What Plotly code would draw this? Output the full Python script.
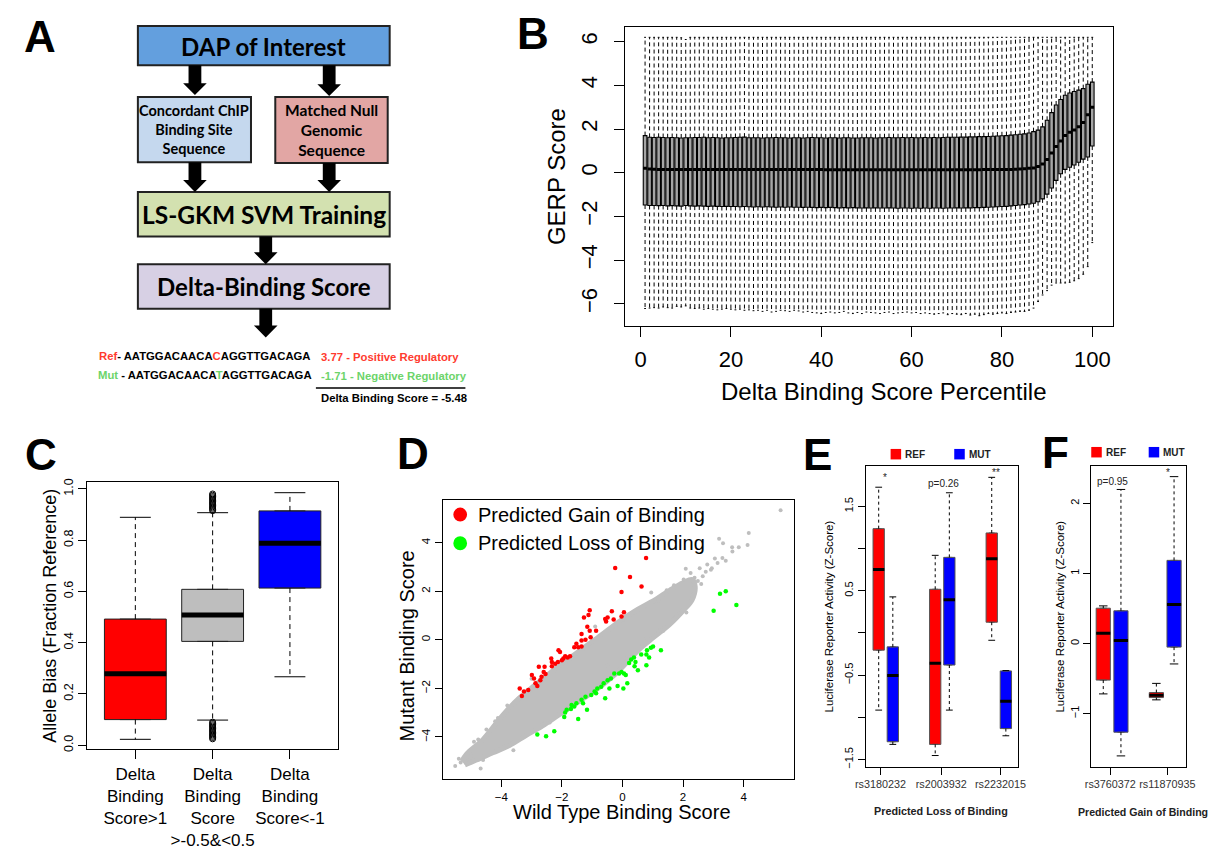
import plotly.graph_objects as go

W, H = 1217, 850
def fx(x): return x / W
def fy(y): return 1 - y / H

FONT = "Liberation Sans, Arial, Helvetica, sans-serif"
FLOW = "Lato, Open Sans, sans-serif"

# ---------------- Panel B data (GERP score boxes per percentile) ----------------
b_pct = list(range(1, 101))
b_median = [0.20, 0.17, 0.16, 0.15, 0.15, 0.15, 0.15, 0.15, 0.15, 0.15,
            0.15, 0.15, 0.15, 0.15, 0.15, 0.15, 0.15, 0.15, 0.15, 0.15,
            0.15, 0.15, 0.15, 0.15, 0.15, 0.15, 0.15, 0.15, 0.15, 0.15,
            0.15, 0.15, 0.15, 0.15, 0.15, 0.15, 0.15, 0.15, 0.15, 0.15,
            0.14, 0.14, 0.14, 0.14, 0.14, 0.14, 0.14, 0.14, 0.14, 0.14,
            0.14, 0.14, 0.14, 0.14, 0.14, 0.14, 0.14, 0.14, 0.14, 0.14,
            0.14, 0.14, 0.14, 0.14, 0.14, 0.14, 0.14, 0.14, 0.14, 0.14,
            0.14, 0.14, 0.14, 0.14, 0.14, 0.15, 0.15, 0.15, 0.15, 0.15,
            0.15, 0.15, 0.16, 0.17, 0.18, 0.20, 0.22, 0.28, 0.40, 0.60,
            0.90, 1.20, 1.45, 1.70, 1.85, 1.95, 2.10, 2.30, 2.65, 3.00]
b_q3 = [1.70, 1.62, 1.61, 1.62, 1.61, 1.60, 1.61, 1.60, 1.59, 1.60,
        1.60, 1.61, 1.61, 1.62, 1.60, 1.61, 1.60, 1.59, 1.60, 1.60,
        1.61, 1.62, 1.63, 1.60, 1.60, 1.60, 1.59, 1.60, 1.60, 1.61,
        1.60, 1.60, 1.59, 1.60, 1.60, 1.59, 1.60, 1.61, 1.60, 1.60,
        1.59, 1.60, 1.60, 1.59, 1.60, 1.60, 1.59, 1.59, 1.60, 1.60,
        1.60, 1.59, 1.60, 1.60, 1.61, 1.60, 1.60, 1.61, 1.60, 1.61,
        1.60, 1.60, 1.61, 1.60, 1.61, 1.60, 1.61, 1.62, 1.62, 1.62,
        1.63, 1.63, 1.64, 1.64, 1.65, 1.65, 1.66, 1.67, 1.68, 1.69,
        1.70, 1.72, 1.74, 1.76, 1.78, 1.82, 1.88, 1.95, 2.10, 2.40,
        2.75, 3.10, 3.35, 3.55, 3.65, 3.72, 3.78, 3.85, 4.05, 4.15]
b_q1 = [-1.48, -1.50, -1.50, -1.51, -1.50, -1.52, -1.51, -1.52, -1.53, -1.50,
        -1.52, -1.53, -1.52, -1.53, -1.54, -1.53, -1.54, -1.55, -1.54, -1.55,
        -1.55, -1.56, -1.55, -1.56, -1.57, -1.56, -1.57, -1.56, -1.57, -1.58,
        -1.57, -1.58, -1.57, -1.58, -1.58, -1.59, -1.58, -1.59, -1.60, -1.59,
        -1.60, -1.59, -1.60, -1.61, -1.60, -1.61, -1.60, -1.61, -1.62, -1.61,
        -1.62, -1.61, -1.62, -1.62, -1.61, -1.62, -1.63, -1.62, -1.62, -1.63,
        -1.62, -1.63, -1.62, -1.63, -1.62, -1.62, -1.63, -1.62, -1.62, -1.61,
        -1.62, -1.61, -1.61, -1.60, -1.60, -1.59, -1.58, -1.57, -1.56, -1.55,
        -1.54, -1.52, -1.50, -1.48, -1.46, -1.43, -1.40, -1.33, -1.20, -0.98,
        -0.70, -0.35, -0.05, 0.15, 0.25, 0.35, 0.48, 0.62, 0.72, 1.22]
b_upper = [6.20, 6.20, 6.20, 6.20, 6.20, 6.20, 6.20, 6.20, 6.18, 6.10,
           6.20, 6.20, 6.20, 6.20, 6.20, 6.20, 6.20, 6.20, 6.20, 6.20,
           6.20, 6.20, 6.20, 6.20, 6.20, 6.20, 6.20, 6.20, 6.20, 6.20,
           6.20, 6.20, 6.20, 6.20, 6.20, 6.20, 6.20, 6.20, 6.20, 6.20,
           6.20, 6.20, 6.20, 6.20, 6.20, 6.20, 6.20, 6.20, 6.20, 6.20,
           6.20, 6.20, 6.20, 6.20, 6.20, 6.20, 6.20, 6.20, 6.20, 6.20,
           6.20, 6.20, 6.20, 6.20, 6.20, 6.20, 6.20, 6.20, 6.20, 6.20,
           6.20, 6.20, 6.20, 6.20, 6.20, 6.20, 6.20, 6.20, 6.20, 6.20,
           6.20, 6.20, 6.20, 6.20, 6.20, 6.20, 6.20, 6.20, 6.20, 6.20,
           6.20, 6.20, 6.20, 6.20, 6.20, 6.20, 6.20, 6.20, 6.20, 6.20]
b_lower = [-6.22, -6.20, -6.18, -6.20, -6.15, -6.18, -6.20, -6.12, -6.15, -6.10,
           -6.20, -6.22, -6.20, -6.25, -6.22, -6.25, -6.28, -6.25, -6.22, -6.25,
           -6.28, -6.25, -6.30, -6.28, -6.32, -6.30, -6.35, -6.30, -6.38, -6.35,
           -6.30, -6.32, -6.35, -6.30, -6.33, -6.38, -6.35, -6.40, -6.42, -6.45,
           -6.40, -6.38, -6.42, -6.40, -6.35, -6.42, -6.45, -6.40, -6.45, -6.38,
           -6.40, -6.42, -6.45, -6.40, -6.38, -6.45, -6.42, -6.40, -6.38, -6.42,
           -6.40, -6.45, -6.42, -6.45, -6.48, -6.45, -6.42, -6.50, -6.45, -6.48,
           -6.50, -6.45, -6.52, -6.48, -6.55, -6.50, -6.45, -6.48, -6.45, -6.42,
           -6.45, -6.40, -6.38, -6.35, -6.35, -6.30, -6.20, -5.90, -5.60, -5.40,
           -5.15, -5.05, -5.05, -5.05, -5.02, -4.95, -4.85, -4.65, -4.30, -3.20]
b_xticks = [0, 20, 40, 60, 80, 100]
b_yticks = [-6, -4, -2, 0, 2, 4, 6]

# ---------------- Panel C data ----------------
c_labels = ["Delta<br>Binding<br>Score&gt;1",
            "Delta<br>Binding<br>Score<br>&gt;-0.5&amp;&lt;0.5",
            "Delta<br>Binding<br>Score&lt;-1"]
c_pos = [1, 2, 3]
c_q1 = [0.100, 0.405, 0.613]
c_median = [0.279, 0.508, 0.788]
c_q3 = [0.492, 0.608, 0.914]
c_lower = [0.023, 0.098, 0.267]
c_upper = [0.889, 0.907, 0.985]
c_colors = ["#ff0000", "#bebebe", "#0000ff"]
c_out_hi = [0.915, 0.92, 0.925, 0.93, 0.935, 0.94, 0.945, 0.95, 0.955, 0.96, 0.965, 0.97, 0.975, 0.98]
c_out_lo = [0.025, 0.03, 0.035, 0.04, 0.045, 0.05, 0.055, 0.06, 0.065, 0.07, 0.075, 0.08, 0.085, 0.09]
c_yticks = [0.0, 0.2, 0.4, 0.6, 0.8, 1.0]

# ---------------- Panel D data ----------------
d_cloud_x = [-5.30, -5.14, -4.60, -3.95, -3.41, -2.87, -2.33, -1.79, -1.25, -0.70, -0.06, 0.50, 1.14, 1.57, 2.00, 2.30,
             2.40, 2.30, 2.00, 1.57, 1.03, 0.59, -0.27, -1.03, -1.57, -2.11, -2.65, -3.20, -3.73, -4.28, -4.82, -5.20]
d_cloud_y = [-5.00, -4.70, -4.10, -3.10, -2.40, -1.85, -1.30, -0.80, -0.30, 0.20, 0.80, 1.25, 1.70, 2.05, 2.35, 2.48,
             2.20, 1.65, 1.20, 0.65, 0.10, -0.35, -1.45, -2.20, -2.65, -3.10, -3.55, -3.95, -4.35, -4.65, -4.95, -5.15]
d_gray_x = [5.22, 4.17, 4.13, 3.19, 3.32, 3.62, 3.63, 3.84, 3.30, 3.41, 3.14, 2.92, 2.65, 2.38, 2.49, 2.09, 2.02,
            2.11, 1.79, 1.35, 1.46, 1.19, -5.52, -4.68, -5.14, -4.95, -5.34, -4.49, -4.76, -4.11, 2.75, 2.25,
            2.55, 2.80, 2.60, 1.70, 1.90, 0.95, 0.70, 0.30, -0.50, -1.40, -2.40, -3.00, -3.60, -4.20, -4.60,
            -5.40, -4.90, -3.80, -0.90, 0.10, 1.25, 2.95, 3.05]
d_gray_y = [5.34, 4.40, 3.91, 4.16, 3.98, 3.81, 3.64, 3.81, 3.37, 3.26, 3.17, 2.89, 2.62, 2.56, 2.42, 2.93, 2.49,
            1.13, 0.92, 0.38, 2.04, 1.61, -5.19, -5.30, -4.85, -4.78, -5.05, -3.69, -4.10, -3.22, 2.80, 2.75,
            2.95, 3.10, 2.30, 2.25, 1.05, 1.95, 0.05, 1.10, -1.05, -2.45, -3.40, -1.60, -4.55, -3.35, -4.95,
            -4.90, -4.20, -2.70, 0.55, -0.75, 0.40, 2.95, 3.35]
d_gain_x = [0.78, -0.24, 0.25, 0.63, -0.03, -1.08, -0.35, 0.05, -0.03, -1.27, -1.12, -0.57, -0.49, -0.29, -0.54,
            -1.16, -1.08, -0.87, -1.35, -1.22, -1.05, -1.35, -1.59, -1.46, -1.35, -1.52, -2.11, -2.06, -1.89, -1.81,
            -1.95, -1.73, -2.35, -2.33, -2.22, -2.13, -2.00, -2.76, -2.57, -2.33, -2.60, -2.67, -2.99, -2.92, -2.87,
            -2.71, -2.54, -3.39, -3.25, -3.11, -3.32, -2.81]
d_gain_y = [3.37, 2.96, 2.59, 2.20, 1.97, 1.22, 1.18, 1.14, 0.96, 0.92, 1.02, 0.86, 0.92, 0.84, 0.76,
            0.54, 0.38, 0.38, 0.24, 0.00, 0.11, -0.03, -0.30, -0.30, -0.27, -0.16, -0.43, -0.50, -0.68, -0.73,
            -0.77, -0.68, -0.77, -0.91, -0.98, -0.91, -0.84, -1.11, -1.11, -1.09, -1.32, -1.52, -1.45, -1.59, -1.79,
            -1.66, -1.41, -2.00, -2.13, -2.06, -2.31, -1.90]
d_loss_x = [3.41, 3.22, 3.76, 3.01, 1.27, 1.01, 0.94, 0.81, 0.79, 0.88, 0.62, 0.38, 0.29, 0.43, 0.22, 0.40, 0.79,
            0.51, -0.03, 0.05, -0.11, -0.27, 0.11, -0.38, -0.49, -0.62, -0.16, 0.16, 0.03, -0.43, -0.83, -0.92,
            -1.03, -0.87, -1.22, -1.35, -1.52, -1.68, -1.59, -1.84, -1.89, -1.92, -1.70, -1.17, -1.46, -0.57, -2.25,
            -2.52, -2.81, -1.30, -0.70]
d_loss_y = [2.00, 1.90, 1.44, 1.20, -0.43, -0.27, -0.33, -0.43, -0.60, -0.73, -0.60, -0.73, -0.81, -0.91, -0.95,
            -1.09, -1.05, -1.25, -1.32, -1.39, -1.39, -1.39, -1.45, -1.59, -1.66, -1.79, -1.90, -1.79, -2.00, -2.00,
            -2.00, -2.13, -2.27, -2.20, -2.34, -2.47, -2.61, -2.68, -2.74, -2.88, -2.99, -3.18, -2.85, -2.88, -3.26,
            -2.40, -3.76, -3.97, -3.90, -2.61, -1.93]
d_ticks = [-4, -2, 0, 2, 4]

# ---------------- Panel E data (Predicted Loss of Binding) ----------------
e_snps = ["rs3180232", "rs2003932", "rs2232015"]
e_ref_q1 = [-0.204, -1.320, 0.127]
e_ref_med = [0.751, -0.360, 0.880]
e_ref_q3 = [1.235, 0.517, 1.184]
e_ref_lo = [-0.914, -1.452, -0.087]
e_ref_hi = [1.726, 0.919, 1.843]
e_mut_q1 = [-1.289, -0.380, -1.133]
e_mut_med = [-0.504, 0.392, -0.809]
e_mut_q3 = [-0.165, 0.895, -0.450]
e_mut_lo = [-1.320, -0.914, -1.218]
e_mut_hi = [0.427, 1.660, -0.446]
e_sig = ["*", "p=0.26", "**"]
e_yticks = [-1.5, -1.0, -0.5, 0.0, 0.5, 1.0, 1.5]
e_yticktext = ["\u22121.5", "", "\u22120.5", "", "0.5", "", "1.5"]

# ---------------- Panel F data (Predicted Gain of Binding) ----------------
f_snps = ["rs3760372", "rs11870935"]
f_ref_q1 = [-0.522, -0.771]
f_ref_med = [0.146, -0.738]
f_ref_q3 = [0.503, -0.700]
f_ref_lo = [-0.719, -0.804]
f_ref_hi = [0.536, -0.569]
f_mut_q1 = [-1.265, -0.052]
f_mut_med = [0.042, 0.555]
f_mut_q3 = [0.466, 1.185]
f_mut_lo = [-1.603, -0.292]
f_mut_hi = [2.196, 2.379]
f_sig = ["p=0.95", "*"]
f_yticks = [-1, 0, 1, 2]

# ---------------- layout positions (not data) ----------------
e_ref_pos = [1, 3, 5]
e_mut_pos = [1.5, 3.5, 5.5]
e_tickpos = [1.063, 3.21, 5.31]
f_ref_pos = [1, 2.5]
f_mut_pos = [1.5, 3.0]
f_tickpos = [1.2, 2.81]

fig = go.Figure()


def add_boxes(xs, q1, med, q3, lo, hi, width, fill, xa, ya, cap_half, med_w,
              edge="black", dash="3px,3px", lw=1):
    wx, wy, cx, cy, mx, my = [], [], [], [], [], []
    for x, a, m, b, l, h in zip(xs, q1, med, q3, lo, hi):
        wx += [x, x, None, x, x, None]
        wy += [b, h, None, a, l, None]
        cx += [x - cap_half, x + cap_half, None, x - cap_half, x + cap_half, None]
        cy += [h, h, None, l, l, None]
        mx += [x - width / 2, x + width / 2, None]
        my += [m, m, None]
    fig.add_trace(go.Scatter(x=wx, y=wy, mode="lines", xaxis=xa, yaxis=ya,
                             line=dict(color="black", width=1, dash=dash),
                             hoverinfo="skip", showlegend=False))
    fig.add_trace(go.Scatter(x=cx, y=cy, mode="lines", xaxis=xa, yaxis=ya,
                             line=dict(color="black", width=1),
                             hoverinfo="skip", showlegend=False))
    fig.add_trace(go.Box(x=xs, q1=q1, median=med, q3=q3, lowerfence=q1, upperfence=q3,
                         width=width, fillcolor=fill, line=dict(color=edge, width=lw),
                         boxpoints=False, xaxis=xa, yaxis=ya, hoverinfo="skip",
                         showlegend=False))
    fig.add_trace(go.Scatter(x=mx, y=my, mode="lines", xaxis=xa, yaxis=ya,
                             line=dict(color="black", width=med_w),
                             hoverinfo="skip", showlegend=False))


# Panel B
add_boxes(b_pct, b_q1, b_median, b_q3, b_lower, b_upper, 0.8, "#a6a6a6", "x", "y",
          0.2, 3, edge="black", dash="4px,3px", lw=1.1)

# Panel C
for i in range(3):
    add_boxes([c_pos[i]], [c_q1[i]], [c_median[i]], [c_q3[i]], [c_lower[i]], [c_upper[i]],
              0.8, c_colors[i], "x2", "y2", 0.2, 5, edge="#222222", dash="5px,4px")
fig.add_trace(go.Scatter(x=[c_pos[1]] * (len(c_out_hi) + len(c_out_lo)), y=c_out_hi + c_out_lo,
                         mode="markers", xaxis="x2", yaxis="y2",
                         marker=dict(symbol="circle-open", size=6, color="black", line=dict(width=1)),
                         hoverinfo="skip", showlegend=False))

# Panel D
fig.add_trace(go.Scatter(x=d_cloud_x, y=d_cloud_y, mode="lines", fill="toself",
                         fillcolor="#bebebe", line=dict(color="#bebebe", width=5, shape="spline"),
                         xaxis="x3", yaxis="y3", hoverinfo="skip", showlegend=False))
fig.add_trace(go.Scatter(x=d_gray_x, y=d_gray_y, mode="markers", xaxis="x3", yaxis="y3",
                         marker=dict(size=4, color="#bebebe"), hoverinfo="skip", showlegend=False))
fig.add_trace(go.Scatter(x=d_gain_x, y=d_gain_y, mode="markers", xaxis="x3", yaxis="y3",
                         marker=dict(size=4.5, color="#ff0000"), hoverinfo="skip", showlegend=False))
fig.add_trace(go.Scatter(x=d_loss_x, y=d_loss_y, mode="markers", xaxis="x3", yaxis="y3",
                         marker=dict(size=4.5, color="#00ff00"), hoverinfo="skip", showlegend=False))

# Panel E
add_boxes(e_ref_pos, e_ref_q1, e_ref_med, e_ref_q3, e_ref_lo, e_ref_hi, 0.4, "#ff0000", "x4", "y4",
          0.12, 3, edge="#555555", dash="3px,3px")
add_boxes(e_mut_pos, e_mut_q1, e_mut_med, e_mut_q3, e_mut_lo, e_mut_hi, 0.4, "#0000ff", "x4", "y4",
          0.12, 3, edge="#555555", dash="3px,3px")

# Panel F
add_boxes(f_ref_pos, f_ref_q1, f_ref_med, f_ref_q3, f_ref_lo, f_ref_hi, 0.4, "#ff0000", "x5", "y5",
          0.12, 3, edge="#555555", dash="3px,3px")
add_boxes(f_mut_pos, f_mut_q1, f_mut_med, f_mut_q3, f_mut_lo, f_mut_hi, 0.4, "#0000ff", "x5", "y5",
          0.12, 3, edge="#555555", dash="3px,3px")


def axis(domain, rng, anchor, tickvals, size, ticklen, ticktext=None, angle=0, color="black",
         standoff=None):
    d = dict(domain=domain, range=rng, anchor=anchor, tickvals=tickvals, showline=True,
             linecolor="black", linewidth=1, mirror=True, ticks="outside", ticklen=ticklen,
             tickcolor="black", tickwidth=1, showgrid=False, zeroline=False,
             tickfont=dict(family=FONT, size=size, color=color), tickangle=angle,
             fixedrange=True)
    if ticktext is not None:
        d["ticktext"] = ticktext
    if standoff is not None:
        d["ticklabelstandoff"] = standoff
    return d


layout_axes = dict(
    xaxis=axis([fx(624), fx(1120)], [-3.5, 104.5], "y", b_xticks, 22, 10, standoff=4),
    yaxis=axis([fy(325), fy(23.3)], [-7.0, 6.67], "x", b_yticks, 22, 10, angle=-90, standoff=8),
    xaxis2=axis([fx(77.7), fx(332.3)], [0.38, 3.62], "y2", c_pos, 17, 9, ticktext=c_labels),
    yaxis2=axis([fy(753.3), fy(483.3)], [-0.016, 1.026], "x2", c_yticks, 12.5, 8,
                ticktext=["%.1f" % v for v in c_yticks], angle=-90),
    xaxis3=axis([fx(439.3), fx(795.7)], [-5.92, 5.65], "y3", d_ticks, 11.5, 7),
    yaxis3=axis([fy(783.3), fy(501.3)], [-5.73, 5.76], "x3", d_ticks, 11.5, 7, angle=-90),
    xaxis4=axis([fx(869), fx(1024.3)], [0.541, 5.946], "y4", e_tickpos, 10.8, 7,
                ticktext=e_snps, color="#333333"),
    yaxis4=axis([fy(771), fy(466.7)], [-1.586, 1.98], "x4", e_yticks, 11, 7,
                ticktext=e_yticktext, angle=-90),
    xaxis5=axis([fx(1098.3), fx(1194.3)], [0.661, 3.328], "y5", f_tickpos, 10.8, 7,
                ticktext=f_snps, color="#333333"),
    yaxis5=axis([fy(771), fy(466.7)], [-1.759, 2.534], "x5", f_yticks, 11, 7, angle=-90),
)

shapes = []
annotations = []


def rect(x0, y0, x1, y1, fill, lw=2, lc="#222222"):
    shapes.append(dict(type="rect", xref="paper", yref="paper", x0=fx(x0), x1=fx(x1),
                       y0=fy(y1), y1=fy(y0), fillcolor=fill, line=dict(color=lc, width=lw),
                       layer="above"))


def arrow(cx, y0, y1, head=12):
    yh = y1 - head
    pts = [(cx - 6.5, y0), (cx + 6.5, y0), (cx + 6.5, yh), (cx + 12, yh), (cx, y1),
           (cx - 12, yh), (cx - 6.5, yh)]
    path = "M " + " L ".join("%.5f,%.5f" % (fx(a), fy(b)) for a, b in pts) + " Z"
    shapes.append(dict(type="path", xref="paper", yref="paper", path=path,
                       fillcolor="black", line=dict(color="black", width=0)))


def text(x, y, s, size, family=FONT, color="black", xanchor="center", yanchor="middle",
         angle=0):
    annotations.append(dict(x=fx(x), y=fy(y), xref="paper", yref="paper", text=s,
                            showarrow=False, xanchor=xanchor, yanchor=yanchor,
                            textangle=angle, font=dict(family=family, size=size, color=color)))


# ---- Panel A flowchart ----
rect(129, 22.3, 385, 62, "#639fde")
rect(129, 94, 244, 160, "#c5d8ee")
rect(268.7, 94, 383, 160.7, "#e2a6a4")
rect(129, 190, 385, 235, "#d3e1b0")
rect(129, 263, 385, 308, "#d7d0e4")
arrow(187, 62, 92)
arrow(323.5, 62, 93)
arrow(187, 160, 190)
arrow(323.5, 160.7, 190)
arrow(259, 235, 263)
arrow(259, 308, 337)
text(257, 43, "<b>DAP of Interest</b>", 24, FLOW)
text(186.5, 127, "<b>Concordant ChIP<br>Binding Site<br>Sequence</b>", 14.5, FLOW)
text(326, 127, "<b>Matched Null<br>Genomic<br>Sequence</b>", 15.5, FLOW)
text(257, 213, "<b>LS-GKM SVM Training</b>", 24.5, FLOW)
text(257, 286, "<b>Delta-Binding Score</b>", 24, FLOW)

RED = "#ff3b2f"
GRN = "#6cd46a"
text(87, 356, "<b><span style='color:%s'>Ref</span>- AATGGACAACA<span style='color:%s'>C</span>AGGTTGACAGA</b>" % (RED, RED),
     11.3, xanchor="left")
text(86, 375, "<b><span style='color:%s'>Mut</span> - AATGGACAACA<span style='color:%s'>T</span>AGGTTGACAGA</b>" % (GRN, GRN),
     11.3, xanchor="left")
text(313, 357, "<b>3.77 - Positive Regulatory</b>", 11.3, color=RED, xanchor="left")
text(313, 376, "<b>-1.71 - Negative Regulatory</b>", 11.3, color=GRN, xanchor="left")
shapes.append(dict(type="line", xref="paper", yref="paper", x0=fx(310), x1=fx(462),
                   y0=fy(388), y1=fy(388), line=dict(color="black", width=1.5)))
text(313, 398.5, "<b>Delta Binding Score = -5.48</b>", 11.3, xanchor="left")

# ---- Panel letters ----
for lab, x, y in [("A", 29, 33), ("B", 531, 30), ("C", 31, 455), ("D", 409, 454),
                  ("E", 820, 455), ("F", 1062, 453)]:
    text(x, y, "<b>%s</b>" % lab, 44)

# ---- Axis titles ----
text(554, 174, "GERP Score", 24, angle=-90)
text(888, 392, "Delta Binding Score Percentile", 24)
text(40, 618, "Allele Bias (Fraction Reference)", 18, angle=-90)
text(403, 649, "Mutant Binding Score", 20, angle=-90)
text(620.8, 816.5, "Wild Type Binding Score", 20)
text(831.7, 619, "Luciferase Reporter Activity (Z-Score)", 11.5, angle=-90)
text(946, 816, "<b>Predicted Loss of Binding</b>", 10.8, color="#222222")
text(1066.7, 619, "Luciferase Reporter Activity (Z-Score)", 11.5, angle=-90)
text(1151, 816.5, "<b>Predicted Gain of Binding</b>", 10.6, color="#222222")

# ---- Panel D legend ----
for cy, col, lab in [(516, "#ff0000", "Predicted Gain of Binding"),
                     (545, "#00ff00", "Predicted Loss of Binding")]:
    shapes.append(dict(type="circle", xref="paper", yref="paper", x0=fx(449.7), x1=fx(463.7),
                       y0=fy(cy + 7), y1=fy(cy - 7), fillcolor=col, line=dict(color=col, width=0)))
    text(472.7, cy, lab, 20, xanchor="left")

# ---- Panel E/F legends ----
for x_red, x_blue, yc in [(894.3, 959, 455), (1098.3, 1156.7, 453)]:
    shapes.append(dict(type="rect", xref="paper", yref="paper", x0=fx(x_red), x1=fx(x_red + 10.7),
                       y0=fy(yc + 5.3), y1=fy(yc - 5.3), fillcolor="#ff0000", line=dict(width=0)))
    shapes.append(dict(type="rect", xref="paper", yref="paper", x0=fx(x_blue), x1=fx(x_blue + 10.7),
                       y0=fy(yc + 5.3), y1=fy(yc - 5.3), fillcolor="#0000ff", line=dict(width=0)))
    text(x_red + 12.7, yc, "<b>REF</b>", 10, xanchor="left", color="#222222")
    text(x_blue + 12.7, yc, "<b>MUT</b>", 10, xanchor="left", color="#222222")

# ---- significance labels ----
for x, y, s in zip([888.3, 947.7, 1001.7], [479, 484.3, 473.5], e_sig):
    text(x, y, s, 10, color="#222222")
for x, y, s in zip([1120, 1176.7], [482.7, 474], f_sig):
    text(x, y, s, 10, color="#222222")

fig.update_layout(
    width=W, height=H, margin=dict(l=0, r=0, t=0, b=0),
    paper_bgcolor="white", plot_bgcolor="white", showlegend=False,
    shapes=shapes, annotations=annotations, **layout_axes,
)

fig.write_html("out.html",
               config={"displayModeBar": False, "staticPlot": True},
               post_script="document.body.style.margin='0px';document.body.style.padding='0px';"
                           "document.documentElement.style.overflow='hidden';")
